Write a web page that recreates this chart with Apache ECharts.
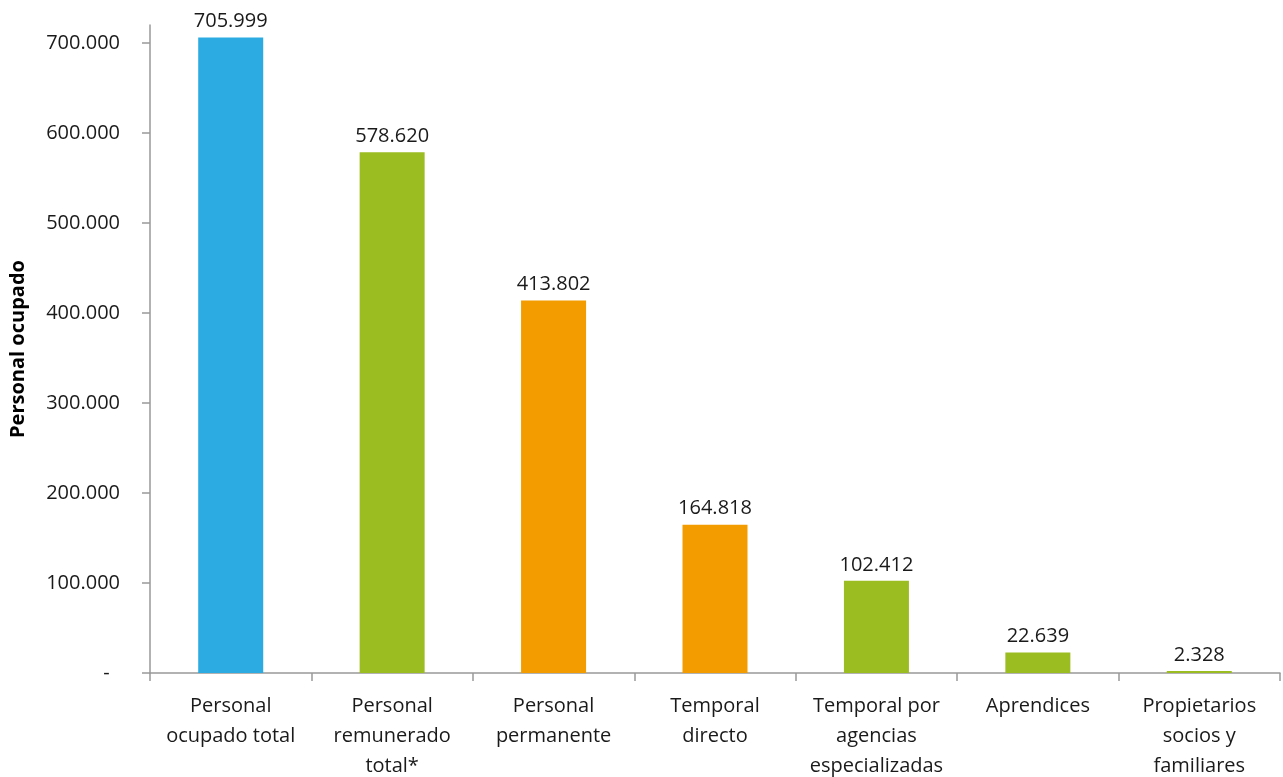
<!DOCTYPE html>
<html>
<head>
<meta charset="utf-8">
<script src="https://cdn.jsdelivr.net/npm/echarts@6/dist/echarts.min.js"></script>
<style>
html,body{margin:0;padding:0;background:#fff;}
#chart{width:1283px;height:777px;}
</style>
</head>
<body>
<div id="chart"></div>
<script>
const categories = [
  "Personal\nocupado total",
  "Personal\nremunerado\ntotal*",
  "Personal\npermanente",
  "Temporal\ndirecto",
  "Temporal por\nagencias\nespecializadas",
  "Aprendices",
  "Propietarios\nsocios y\nfamiliares"
];
const values = [705999, 578620, 413802, 164818, 102412, 22639, 2328];
const barColors = ["#2BABE2", "#9BBD21", "#F29C00", "#F29C00", "#9BBD21", "#9BBD21", "#9BBD21"];
const yTicks = [0, 100000, 200000, 300000, 400000, 500000, 600000, 700000];
const yAxisTitle = "Personal ocupado";

function fmt(v) {
  return String(Math.round(v)).replace(/\B(?=(\d{3})+(?!\d))/g, ".");
}

const chart = echarts.init(document.getElementById('chart'), null, {renderer: 'canvas'});
const FONT = '"Open Sans", "Noto Sans", sans-serif';
chart.setOption({
  animation: false,
  backgroundColor: '#ffffff',
  grid: {left: 150, right: 3, top: 25, bottom: 104, containLabel: false, outerBoundsMode: 'none'},
  xAxis: {
    type: 'category',
    data: categories,
    boundaryGap: true,
    axisLine: {show: true, lineStyle: {color: '#999999', width: 1.5}},
    axisTick: {show: true, length: 8, lineStyle: {color: '#999999', width: 1.5}},
    axisLabel: {
      interval: 0,
      color: '#1a1a1a',
      fontFamily: FONT,
      fontSize: 20,
      lineHeight: 30,
      margin: 18,
      align: 'center'
    }
  },
  yAxis: {
    type: 'value',
    min: 0,
    max: 720000,
    interval: 100000,
    name: yAxisTitle,
    nameLocation: 'middle',
    nameGap: 122,
    nameRotate: 90,
    nameTextStyle: {color: '#000', fontFamily: FONT, fontSize: 20, fontWeight: 'bold'},
    splitLine: {show: false},
    axisLine: {show: true, lineStyle: {color: '#999999', width: 1.5}},
    axisTick: {show: true, length: 8, customValues: yTicks, lineStyle: {color: '#999999', width: 1.5}},
    axisLabel: {
      customValues: yTicks,
      color: '#1a1a1a',
      fontFamily: FONT,
      fontSize: 20,
      margin: 30,
      formatter: function (v) { return v === 0 ? '-  ' : fmt(v); }
    }
  },
  series: [{
    type: 'bar',
    data: values.map((v, i) => ({value: v, itemStyle: {color: barColors[i]}})),
    barWidth: 65,
    label: {
      show: true,
      position: 'top',
      distance: 6,
      color: '#1a1a1a',
      fontFamily: FONT,
      fontSize: 20,
      formatter: p => fmt(p.value)
    }
  }]
});
</script>
</body>
</html>
